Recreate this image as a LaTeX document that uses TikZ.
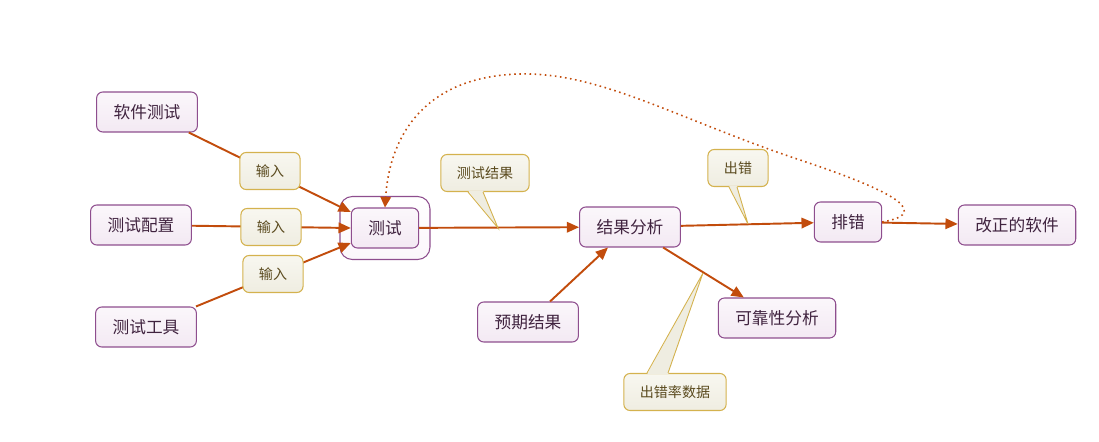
\documentclass[tikz,border=0pt]{standalone}
\usepackage{fontspec}
\newfontfamily\cjk{Noto Sans CJK SC}
\usetikzlibrary{arrows.meta,calc}
\definecolor{arrowc}{HTML}{C24C0C}
\definecolor{boxline}{HTML}{8E4E8E}
\definecolor{boxtext}{HTML}{40233F}
\definecolor{boxtop}{HTML}{FBF7FB}
\definecolor{boxbot}{HTML}{F3E9F3}
\definecolor{noteline}{HTML}{D4B24E}
\definecolor{notetext}{HTML}{5A4A1E}
\definecolor{notetop}{HTML}{F8F7F0}
\definecolor{notebot}{HTML}{EFEDE1}
\begin{document}
\begin{tikzpicture}[x = 0.02cm, y = -0.02cm,
  box/.style = {draw = boxline, line width = 0.6pt, rounded corners = 3.5pt, top color = boxtop, bottom color = boxbot, text = boxtext, font = \cjk\fontsize{9.5}{11}\selectfont, inner xsep = 0.34cm, minimum height = 0.8cm},
  note/.style = {draw = noteline, line width = 0.6pt, rounded corners = 3.5pt, top color = notetop, bottom color = notebot, text = notetext, font = \cjk\fontsize{8}{10}\selectfont, inner xsep = 0.32cm, minimum height = 0.74cm},
  flow/.style = {draw = arrowc, line width = 1.1pt, -{Triangle[length = 7pt, width = 6pt]}}]
              \useasboundingbox (0, 0) rectangle (1099, 442);
              \node [box] (soft) at (147, 112) {软件测试};
              \node [box] (conf) at (141, 225) {测试配置};
              \node [box] (tool) at (146, 327) {测试工具};
              \node [box, minimum width = 1.8cm, minimum height = 1.26cm, rounded corners = 7pt, top color = white, bottom color = boxtop] (testout) at (385, 228) {};
              \node [box] (test) at (385, 228) {测试};
              \node [box] (res) at (630, 227) {结果分析};
              \node [box] (expect) at (528, 322) {预期结果};
              \node [box] (debug) at (848, 222) {排错};
              \node [box] (fixed) at (1017, 225) {改正的软件};
              \node [box] (rel) at (777, 318) {可靠性分析};
              \coordinate (rtip) at (498, 228);
              \coordinate (etip) at (748, 224);
              \coordinate (ptip) at (703, 273);
              \draw [flow] (soft) -- ($(test.west) + (0, -16)$);
              \draw [flow] (conf) -- (test.west);
              \draw [flow] (tool) -- ($(test.west) + (0, 15)$);
              \foreach \a/\b in {test/res, expect/res, res/debug, res/rel, debug/fixed}
              \draw [flow] (\a) -- (\b);
              \draw [arrowc, line width = 0.9pt, dotted, -{Triangle[length = 6pt, width = 6pt]}] (debug.east) .. controls (940, 212) and (875, 185) .. (800, 160) .. controls (680, 120) and (600, 72) .. (520, 74) .. controls (430, 76) and (390, 130) .. (test.north);
              \foreach \n/\x/\y in {in1/270/171, in2/271/227, in3/273/274}
              \node [note] (\n) at (\x, \y) {输入};
              \node [note] (cres) at (485, 173) {测试结果};
              \node [note] (cerr) at (738, 168) {出错};
              \node [note] (crate) at (675, 392) {出错率数据};
              \foreach \n/\s/\a/\b/\t/\d in {cres/south/-17/-2/rtip/-1.5, cerr/south/-9/-1/etip/-1.5, crate/north/-28/-7/ptip/1.5}
              {\fill [fill = notebot] ($(\n.\s) + (\a, \d)$) -- (\t) -- ($(\n.\s) + (\b, \d)$) -- cycle;
              \draw [draw = noteline, line width = 0.5pt] ($(\n.\s) + (\a, 0)$) -- (\t) -- ($(\n.\s) + (\b, 0)$);}
\end{tikzpicture}
\end{document}
